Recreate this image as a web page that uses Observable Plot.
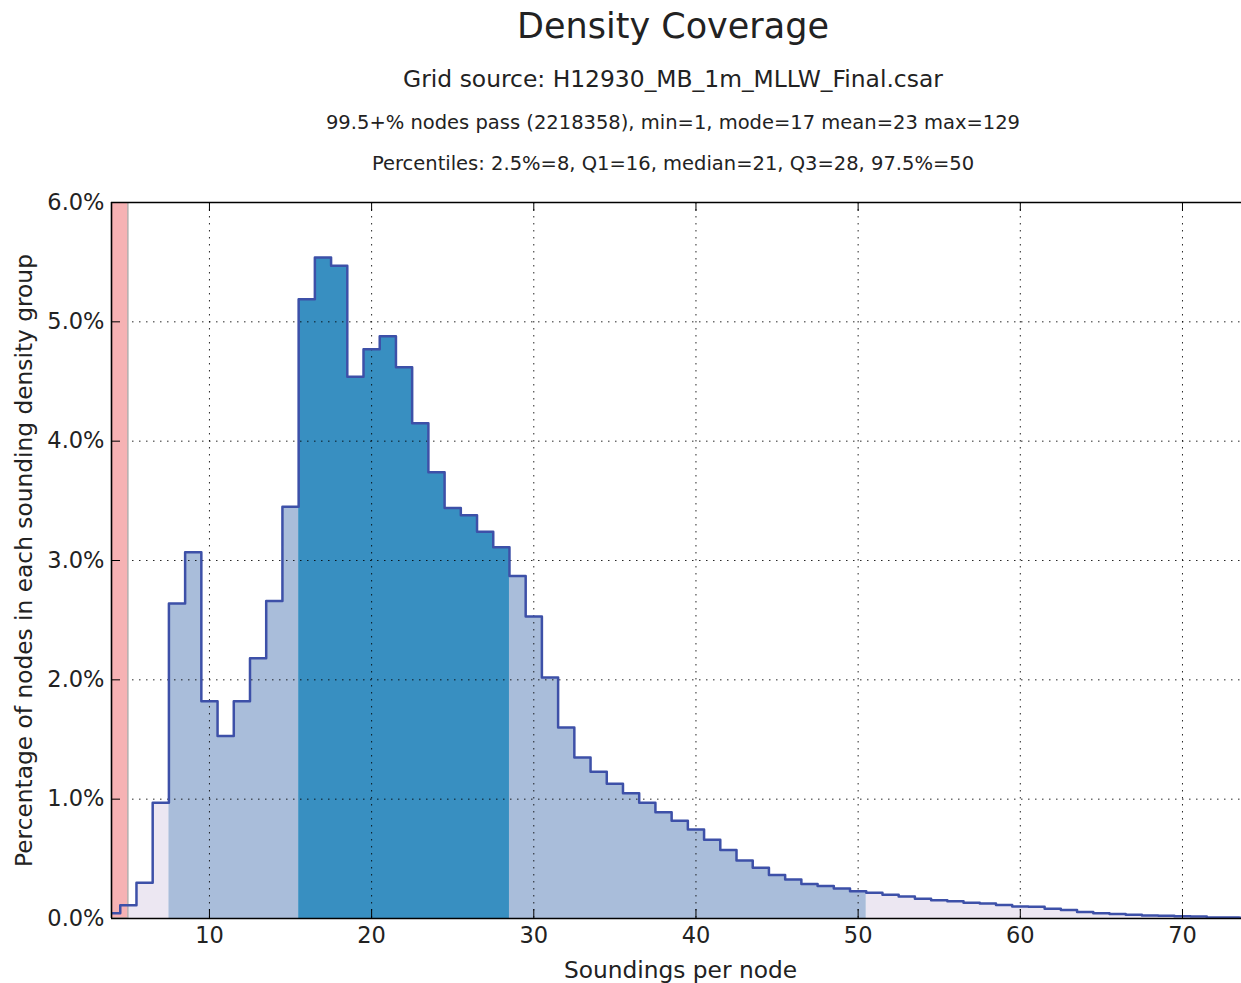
<!DOCTYPE html>
<html>
<head>
<meta charset="utf-8">
<script src="https://cdn.jsdelivr.net/npm/d3@7"></script>
<script src="https://cdn.jsdelivr.net/npm/@observablehq/plot@0.6"></script>
<style>
  html, body { margin: 0; padding: 0; background: #fff; overflow: hidden; }
  body { font-family: "DejaVu Sans", sans-serif; color: #222; }
  #head { position: relative; width: 1241px; height: 180px; }
  #head div { position: absolute; left: 673px; transform: translateX(-50%); white-space: nowrap; line-height: 1; }
  #chart svg { display: block; }
</style>
</head>
<body>
<div id="head">
  <div id="t1" style="top:8.5px;font-size:35px"></div>
  <div id="t2" style="top:67.5px;font-size:23.4px"></div>
  <div id="t3" style="top:112.5px;font-size:19.5px"></div>
  <div id="t4" style="top:153.5px;font-size:19.5px"></div>
</div>
<div id="chart"></div>
<script>
// ---- text ----
const titleText = "Density Coverage";
const sourceText = "Grid source: H12930_MB_1m_MLLW_Final.csar";
const statsText = "99.5+% nodes pass (2218358), min=1, mode=17 mean=23 max=129";
const percentileText = "Percentiles: 2.5%=8, Q1=16, median=21, Q3=28, 97.5%=50";
const xLabel = "Soundings per node";
const yLabel = "Percentage of nodes in each sounding density group";

// ---- data ----
const soundings = [4,5,6,7,8,9,10,11,12,13,14,15,16,17,18,19,20,21,22,23,24,25,26,27,28,29,30,
  31,32,33,34,35,36,37,38,39,40,41,42,43,44,45,46,47,48,49,50,51,52,53,54,55,56,57,58,59,60,
  61,62,63,64,65,66,67,68,69,70,71,72,73,74];
const pctNodes = [0.045,0.11,0.30,0.97,2.64,3.07,1.82,1.53,1.82,2.18,2.66,3.45,5.19,5.54,5.47,4.54,4.77,4.88,4.62,4.15,3.74,3.44,3.38,3.24,3.11,2.87,2.53,
  2.02,1.60,1.35,1.23,1.13,1.05,0.97,0.89,0.82,0.745,0.66,0.575,0.485,0.425,0.365,0.326,0.29,0.272,0.252,0.228,0.215,0.198,0.184,0.165,0.153,0.144,0.133,0.125,0.113,0.100,
  0.099,0.082,0.071,0.055,0.045,0.037,0.031,0.025,0.023,0.018,0.017,0.009,0.008,0.006];
const p025 = 8, q1 = 16, q3 = 28, p975 = 50;
const minSoundings = 5;
const xDomain = [3.96, 73.64];
const yDomain = [0, 6];
const xTicks = [10, 20, 30, 40, 50, 60, 70];
const yTicks = [0, 1, 2, 3, 4, 5, 6];

document.getElementById("t1").textContent = titleText;
document.getElementById("t2").textContent = sourceText;
document.getElementById("t3").textContent = statsText;
document.getElementById("t4").textContent = percentileText;

const band = n => (n < p025 || n > p975) ? "outer" : (n >= q1 && n <= q3) ? "iqr" : "mid";
const rows = soundings.map((n, i) => ({n, v: pctNodes[i], band: band(n)}));
const areaPts = [];
let seg = -1;
rows.forEach((r, i) => {
  if (i === 0 || r.band !== rows[i - 1].band) seg++;
  areaPts.push({x: r.n - 0.5, y: r.v, seg, band: r.band});
  if (i === rows.length - 1 || rows[i + 1].band !== r.band) areaPts.push({x: r.n + 0.5, y: r.v, seg, band: r.band});
});
const last = rows[rows.length - 1];
const linePts = rows.map(r => ({x: r.n - 0.5, y: r.v})).concat([{x: last.n + 0.5, y: last.v}]);

const W = 1241, H = 803, mT = 22, mB = 65, mL = 111, mR = 0;
const frameW = W - mL - mR, frameH = H - mT - mB;
const tickLen = 9;
const gridStyle = {stroke: "#000", strokeOpacity: 0.85, strokeWidth: 1, strokeDasharray: "1.5,5.5"};

const chart = Plot.plot({
  width: W, height: H,
  marginTop: mT, marginBottom: mB, marginLeft: mL, marginRight: mR,
  style: {fontFamily: "DejaVu Sans", fontSize: "22.5px", color: "#222", background: "white"},
  x: {domain: xDomain, ticks: xTicks, tickSize: 0, tickPadding: 9, label: null, tickFormat: d => String(d)},
  y: {domain: yDomain, ticks: yTicks, tickSize: 0, tickPadding: 7, label: null, tickFormat: d => d.toFixed(1) + "%"},
  marks: [
    Plot.areaY(areaPts.filter(d => d.band === "outer"), {x: "x", y: "y", z: "seg", curve: "step-after", fill: "#ece7f2", clip: true}),
    Plot.areaY(areaPts.filter(d => d.band === "mid"), {x: "x", y: "y", z: "seg", curve: "step-after", fill: "#a9bdda", clip: true}),
    Plot.areaY(areaPts.filter(d => d.band === "iqr"), {x: "x", y: "y", z: "seg", curve: "step-after", fill: "#388fc1", clip: true}),
    Plot.ruleX(xTicks, {x: d => d, ...gridStyle}),
    Plot.ruleY(yTicks.filter(d => d > yDomain[0] && d < yDomain[1]), {y: d => d, ...gridStyle}),
    Plot.rect([minSoundings], {x1: () => xDomain[0], x2: d => d, y1: () => yDomain[0], y2: () => yDomain[1],
      fill: "#f6b2b4", stroke: "#b5aeae", strokeWidth: 1.5, clip: true}),
    Plot.line(linePts, {x: "x", y: "y", curve: "step-after", stroke: "#3d50a8", strokeWidth: 2.5, clip: true}),
    Plot.tickX(xTicks, {x: d => d, insetTop: frameH - tickLen, stroke: "#000", strokeWidth: 1}),
    Plot.tickX(xTicks, {x: d => d, insetBottom: frameH - tickLen, stroke: "#000", strokeWidth: 1}),
    Plot.tickY(yTicks, {y: d => d, insetRight: frameW - tickLen, stroke: "#000", strokeWidth: 1}),
    Plot.ruleY([yDomain[0], yDomain[1]], {y: d => d, stroke: "#000", strokeWidth: 1.6}),
    Plot.ruleX([xDomain[0]], {x: d => d, stroke: "#000", strokeWidth: 1.6}),
    Plot.text([xLabel], {text: d => d, frameAnchor: "bottom", dy: 59, dx: 4, lineAnchor: "bottom", textAnchor: "middle", fontSize: 23.3, fill: "#222"}),
    Plot.text([yLabel], {text: d => d, frameAnchor: "left", dx: -79.5, rotate: -90, lineAnchor: "bottom", textAnchor: "middle", fontSize: 23.3, fill: "#222"})
  ]
});
document.getElementById("chart").appendChild(chart);
</script>
</body>
</html>
